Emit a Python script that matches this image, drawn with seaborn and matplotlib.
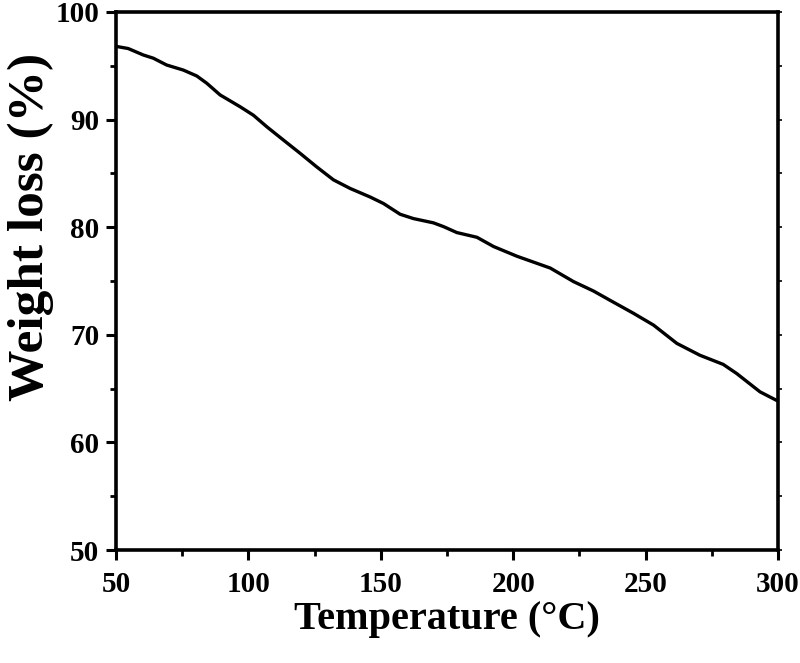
import matplotlib
matplotlib.use("Agg")
import matplotlib.pyplot as plt
import seaborn as sns
import pandas as pd
from matplotlib.ticker import MultipleLocator

temperature = [50, 54.6, 60.3, 64.1, 69.1, 75.4, 80.5, 84.3, 89.3, 96.8, 101.9, 106.9,
               113.2, 119.5, 125.8, 132.1, 138.4, 146.0, 151.0, 157.3, 162.3, 169.9,
               173.7, 178.7, 186.3, 192.6, 201.4, 214.0, 222.8, 230.3, 236.6, 245.4,
               253.0, 261.8, 270.5, 279.3, 284.4, 293.2, 299.5]
weight = [96.8, 96.6, 96.0, 95.7, 95.07, 94.6, 94.05, 93.37, 92.29, 91.2, 90.4, 89.34,
          88.1, 86.87, 85.6, 84.4, 83.6, 82.8, 82.2, 81.2, 80.8, 80.4,
          80.05, 79.5, 79.06, 78.2, 77.3, 76.2, 74.94, 74.07, 73.2, 72.0,
          70.9, 69.2, 68.1, 67.25, 66.4, 64.7, 63.9]
x_ticks = [50, 100, 150, 200, 250, 300]
y_ticks = [50, 60, 70, 80, 90, 100]

df = pd.DataFrame({"Temperature": temperature, "Weight": weight})

sns.set_theme(style="white")
plt.rcParams["font.family"] = ["Liberation Serif", "DejaVu Serif"]
plt.rcParams["font.weight"] = "bold"
plt.rcParams["text.color"] = "black"
plt.rcParams["axes.labelcolor"] = "black"
plt.rcParams["xtick.color"] = "black"
plt.rcParams["ytick.color"] = "black"

fig = plt.figure(figsize=(8, 6.63), dpi=100)
ax = fig.add_axes([0.145, 0.1704, 0.8275, 0.8116])

sns.lineplot(data=df, x="Temperature", y="Weight", ax=ax, color="black", linewidth=2.4)

ax.set_xlim(50, 300)
ax.set_ylim(50, 100)
ax.set_xticks(x_ticks)
ax.set_yticks(y_ticks)
ax.xaxis.set_minor_locator(MultipleLocator(25))
ax.yaxis.set_minor_locator(MultipleLocator(5))

for s in ax.spines.values():
    s.set_linewidth(2.6)
    s.set_color("black")

ax.tick_params(axis="both", which="major", direction="out", length=7, width=2.2,
               labelsize=21, labelcolor="black", colors="black", pad=5)
ax.tick_params(axis="both", which="minor", direction="out", length=4, width=2.0, colors="black")
ax.tick_params(axis="x", which="major", pad=8)
ax.tick_params(axis="y", which="both", right=False)
ax.tick_params(axis="x", which="both", top=False, bottom=True)
for lab in ax.get_xticklabels() + ax.get_yticklabels():
    lab.set_fontweight("bold")
    lab.set_color("black")

rax = ax.twinx()
rax.set_ylim(50, 100)
rax.set_yticks(y_ticks)
rax.yaxis.set_minor_locator(MultipleLocator(5))
rax.tick_params(axis="y", which="both", direction="out", length=3, width=1.2,
                labelright=False, colors="black")
for s in rax.spines.values():
    s.set_visible(False)

ax.set_xlabel("Temperature (°C)", fontsize=29, fontweight="bold", color="black")
ax.set_ylabel("Weight loss (%)", fontsize=37, fontweight="bold", color="black")
ax.xaxis.set_label_coords(0.5, -0.095)
ax.yaxis.set_label_coords(-0.093, 0.60)

fig.savefig("out.png", dpi=100)
